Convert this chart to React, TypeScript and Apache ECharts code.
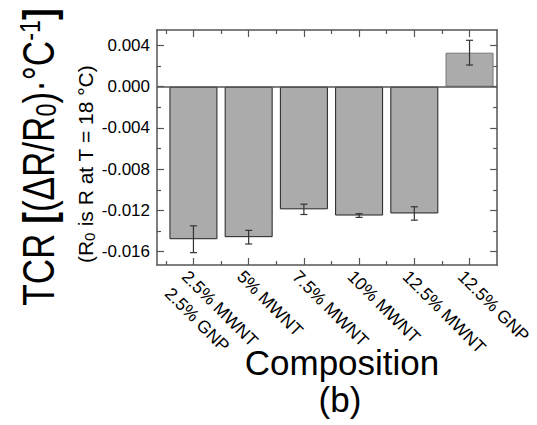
import React, { useEffect, useRef } from "react";
import * as echarts from "echarts";

const categories = [
  "2.5% MWNT\n2.5% GNP",
  "5% MWNT",
  "7.5% MWNT",
  "10% MWNT",
  "12.5% MWNT",
  "12.5% GNP",
];
const positions = [1, 2, 3, 4, 5, 6];
const tcrValues = [-0.0148, -0.0146, -0.0119, -0.0125, -0.0123, 0.0033];
const tcrErrors = [0.0013, 0.00066, 0.0005, 0.00018, 0.00065, 0.0012];
const yMajorTicks = [-0.016, -0.012, -0.008, -0.004, 0, 0.004];
const yMinorTicks = [-0.014, -0.01, -0.006, -0.002, 0.002];
const xMajorTicks = [1, 2, 3, 4, 5, 6];
const xMinorTicks = [0.5, 1.5, 2.5, 3.5, 4.5, 5.5];

const FONT = "Liberation Sans";
const FRAME = "#555";

export default function App() {
  const ref = useRef<HTMLDivElement>(null);
  useEffect(() => {
    if (!ref.current) return;
    const chart = echarts.init(ref.current, null, { renderer: "svg" });
    const yMin = -0.0173;
    const yMax = 0.0055;
    const xMin = 0.34;
    const xMax = 6.5;
    const mkY = (pos: string, ticks: number[], len: number, labels: boolean, line: boolean) => ({
      type: "value",
      position: pos,
      min: yMin,
      max: yMax,
      splitLine: { show: false },
      axisLine: { show: line, onZero: false, lineStyle: { color: FRAME, width: 1.5 } },
      axisTick: { show: true, inside: true, length: len, customValues: ticks, lineStyle: { color: FRAME, width: 1.2 } },
      axisLabel: labels
        ? {
            show: true,
            customValues: ticks,
            margin: 7,
            color: "#000",
            fontSize: 17,
            fontFamily: FONT,
            formatter: (v: number) => v.toFixed(3),
          }
        : { show: false },
    });
    const mkX = (pos: string, ticks: number[], len: number, labels: boolean, line: boolean) => ({
      type: "value",
      position: pos,
      min: xMin,
      max: xMax,
      splitLine: { show: false },
      axisLine: { show: line, onZero: false, lineStyle: { color: FRAME, width: 1.5 } },
      axisTick: { show: true, inside: true, length: len, customValues: ticks, lineStyle: { color: FRAME, width: 1.2 } },
      axisLabel: labels
        ? {
            show: true,
            customValues: ticks,
            rotate: -45,
            align: "left",
            verticalAlign: "top",
            margin: 0,
            padding: 0,
            lineHeight: 24,
            color: "#000",
            fontSize: 17.5,
            fontFamily: FONT,
            formatter: (v: number) => categories[Math.round(v) - 1] ?? "",
          }
        : { show: false },
    });
    chart.setOption({
      animation: false,
      grid: { left: 157, top: 30, width: 371, height: 235, containLabel: false },
      xAxis: [
        mkX("bottom", xMajorTicks, 7, true, true),
        mkX("bottom", xMinorTicks, 4, false, false),
        mkX("top", xMajorTicks, 7, false, true),
        mkX("top", xMinorTicks, 4, false, false),
      ],
      yAxis: [
        mkY("left", yMajorTicks, 7, true, true),
        mkY("left", yMinorTicks, 4, false, false),
        mkY("right", yMajorTicks, 7, false, true),
        mkY("right", yMinorTicks, 4, false, false),
      ],
      graphic: [
        {
          type: "text",
          x: 38,
          y: 157,
          rotation: Math.PI / 2,
          scaleX: 0.78,
          style: {
            text: "TCR {b|[}(ΔR/R{sub|0})·°C{sup|-1}{b|]}",
            fontSize: 45,
            fontFamily: FONT,
            fill: "#000",
            align: "center",
            verticalAlign: "middle",
            rich: {
              b: { fontSize: 45, fontWeight: "bold", fontFamily: FONT, fill: "#000" },
              sub: { fontSize: 30, fontFamily: FONT, verticalAlign: "bottom", lineHeight: 46, fill: "#000" },
              sup: { fontSize: 30, fontFamily: FONT, verticalAlign: "top", lineHeight: 46, fill: "#000" },
            },
          },
        },
        {
          type: "text",
          x: 85,
          y: 164,
          rotation: Math.PI / 2,
          style: {
            text: "(R{sub|0} is R at T = 18 °C)",
            fontSize: 21,
            fontFamily: FONT,
            fill: "#000",
            align: "center",
            verticalAlign: "middle",
            rich: {
              sub: { fontSize: 15, fontFamily: FONT, verticalAlign: "bottom", lineHeight: 24, fill: "#000" },
            },
          },
        },
        {
          type: "text",
          x: 342,
          y: 362,
          style: {
            text: "Composition",
            fontSize: 35,
            fontFamily: FONT,
            fill: "#000",
            align: "center",
            verticalAlign: "middle",
          },
        },
        {
          type: "text",
          x: 340,
          y: 399,
          style: {
            text: "(b)",
            fontSize: 35,
            fontFamily: FONT,
            fill: "#000",
            align: "center",
            verticalAlign: "middle",
          },
        },
      ],
      series: [
        {
          type: "bar",
          xAxisIndex: 0,
          yAxisIndex: 0,
          barWidth: 48,
          data: positions.map((p, i) => ({
            value: [p, tcrValues[i]],
            itemStyle: {
              color: "#ababab",
              borderColor: i === 5 ? "#777" : "#222",
              borderWidth: 1,
            },
          })),
          markLine: {
            silent: true,
            symbol: "none",
            label: { show: false },
            lineStyle: { color: FRAME, width: 1.5, type: "solid" },
            data: [{ yAxis: 0 }],
          },
        },
        {
          type: "custom",
          xAxisIndex: 0,
          yAxisIndex: 0,
          data: positions.map((p, i) => [p, tcrValues[i] - tcrErrors[i], tcrValues[i] + tcrErrors[i]]),
          renderItem: (params: any, api: any) => {
            const x = api.value(0);
            const lo = api.coord([x, api.value(1)]);
            const hi = api.coord([x, api.value(2)]);
            const w = 3.5;
            const style = { stroke: "#333", lineWidth: 1.2, fill: "none" };
            return {
              type: "group",
              children: [
                { type: "line", shape: { x1: lo[0], y1: lo[1], x2: hi[0], y2: hi[1] }, style },
                { type: "line", shape: { x1: lo[0] - w, y1: lo[1], x2: lo[0] + w, y2: lo[1] }, style },
                { type: "line", shape: { x1: hi[0] - w, y1: hi[1], x2: hi[0] + w, y2: hi[1] }, style },
              ],
            };
          },
          z: 5,
        },
      ],
    });
    return () => chart.dispose();
  }, []);
  return (
    <div
      ref={ref}
      style={{ position: "fixed", left: 0, top: 0, width: 537, height: 425, background: "#fff" }}
    />
  );
}
